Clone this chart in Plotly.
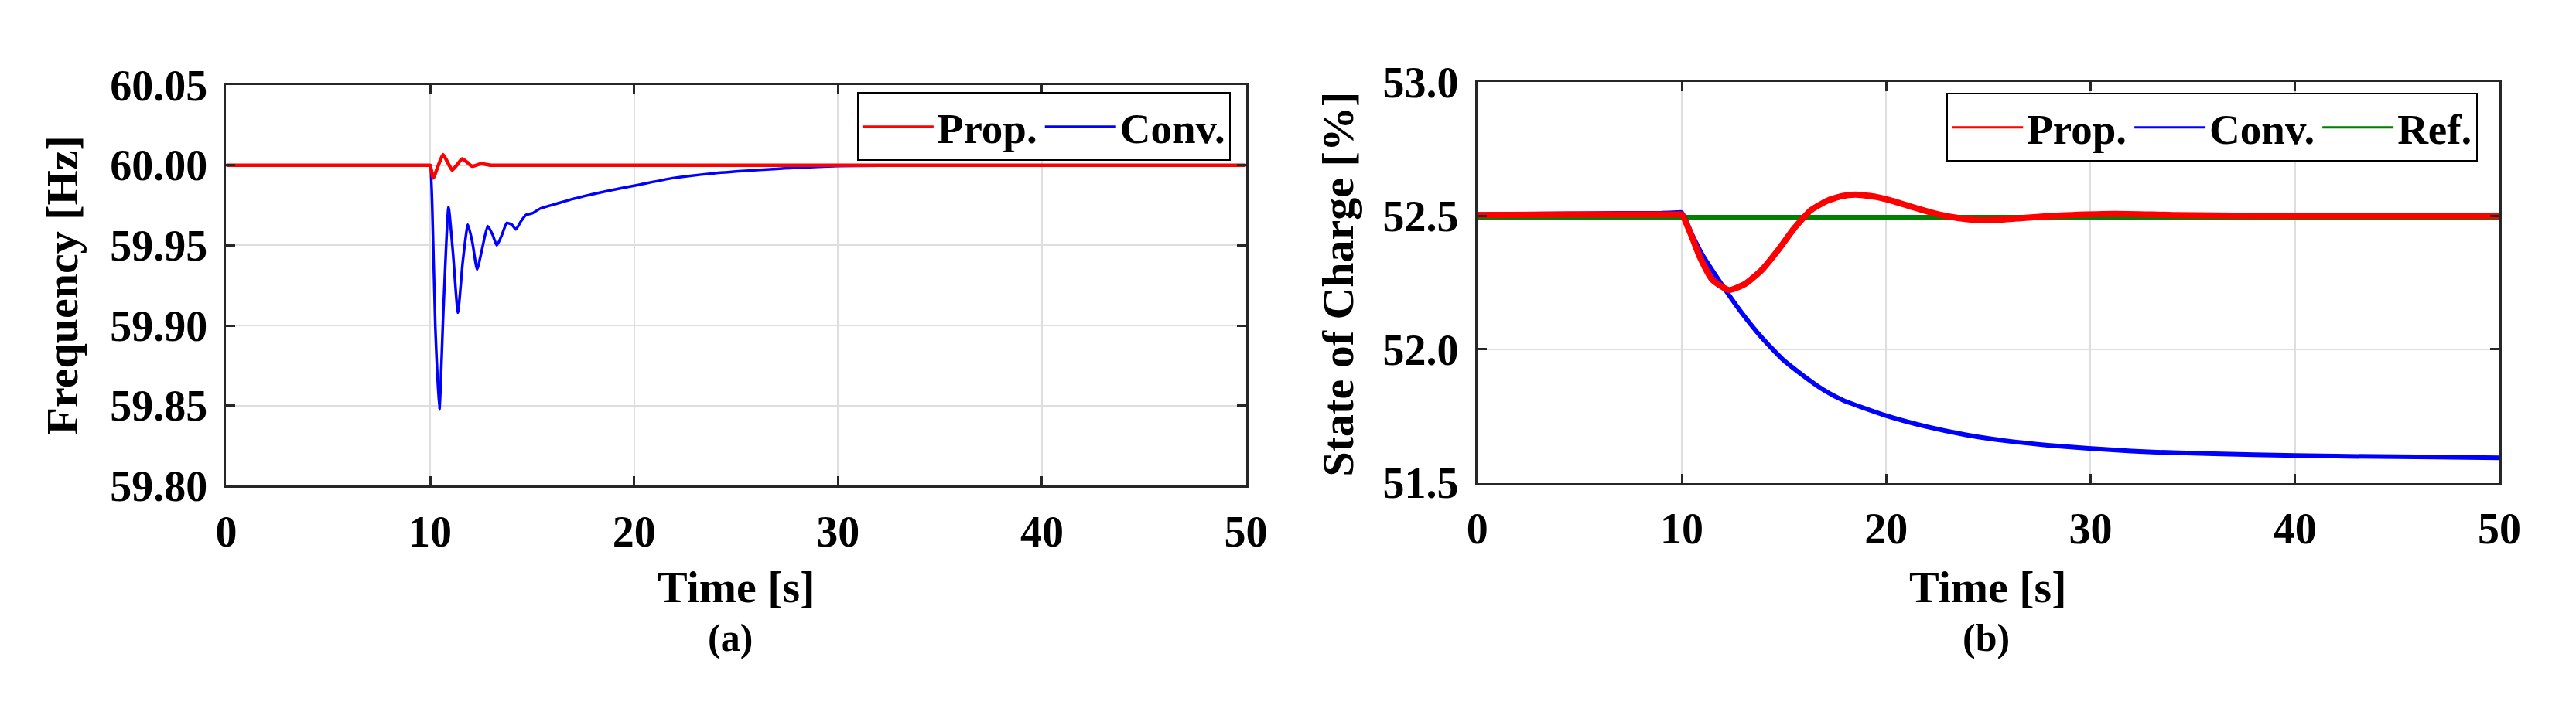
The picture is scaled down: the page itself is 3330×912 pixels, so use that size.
import plotly.graph_objects as go

# ---------------- data: (a) frequency ----------------
t_f_prop = [0, 5, 9.0, 9.8, 9.95, 10.0, 10.15, 10.4, 10.63, 10.85, 11.08, 11.3, 11.57, 11.8, 12.05, 12.5,
            13.0, 13.5, 14.5, 20, 30, 40, 50]
f_prop = [60.0, 60.0, 60.0, 60.0, 60.0, 60.0, 59.992, 60.000, 60.0067, 60.002, 59.997, 60.0, 60.004, 60.002,
          59.9994, 60.001, 60.0, 60.0, 60.0, 60.0, 60.0, 60.0, 60.0]

t_f_conv = [0, 5, 9.0, 9.8, 9.95, 10.0, 10.1, 10.25, 10.45, 10.65, 10.9, 11.12, 11.36, 11.6, 11.85, 12.07, 12.3,
            12.55, 12.82, 13.05, 13.27, 13.5, 13.76, 14.0, 14.2, 14.45, 14.7, 15.0, 15.4, 16.2, 17.0, 18.7,
            20.3, 21.9, 23.9, 26.0, 28.0, 30.0, 34.0, 40.0, 50.0]
f_conv = [60.0, 60.0, 60.0, 60.0, 60.0, 60.0, 59.975, 59.90, 59.8475, 59.91, 59.974, 59.945, 59.908, 59.94,
          59.963, 59.952, 59.935, 59.948, 59.962, 59.957, 59.950, 59.956, 59.964, 59.963, 59.960, 59.965,
          59.969, 59.970, 59.973, 59.976, 59.979, 59.984, 59.988, 59.992, 59.995, 59.997, 59.9985, 59.9995,
          60.0, 60.0, 60.0]

# ---------------- data: (b) state of charge ----------------
t_s_prop = [0, 5, 9.0, 9.8, 10.0, 10.5, 10.9, 11.5, 12.3, 13.1, 13.9, 14.7, 15.5, 16.3, 17.1, 17.8, 18.5, 19.4,
            20.3, 21.1, 21.9, 22.7, 23.5, 24.5, 25.5, 26.7, 28.0, 29.1, 31.2, 34.0, 38.0, 50.0]
s_prop = [52.503, 52.505, 52.505, 52.505, 52.505, 52.42, 52.343, 52.26, 52.222, 52.245, 52.296, 52.37, 52.453,
          52.52, 52.556, 52.573, 52.579, 52.572, 52.556, 52.537, 52.519, 52.503, 52.492, 52.484, 52.485,
          52.492, 52.499, 52.503, 52.507, 52.503, 52.50, 52.50]

t_s_conv = [0, 5, 9.0, 9.8, 10.0, 10.5, 11.0, 11.9, 12.9, 13.9, 14.9, 15.9, 16.9, 17.9, 19.9, 21.9, 23.9, 25.9,
            27.9, 29.9, 32.0, 34.0, 38.0, 42.0, 46.0, 50.0]
s_conv = [52.505, 52.508, 52.510, 52.512, 52.512, 52.43, 52.355, 52.249, 52.14, 52.045, 51.965, 51.904,
          51.85, 51.809, 51.754, 51.712, 51.680, 51.657, 51.641, 51.629, 51.619, 51.613, 51.605, 51.600,
          51.597, 51.594]

t_s_ref = [0, 50]
s_ref = [52.493, 52.493]

x_ticks = [0, 10, 20, 30, 40, 50]
y_ticks_f = [59.80, 59.85, 59.90, 59.95, 60.00, 60.05]
y_ticks_s = [51.5, 52.0, 52.5, 53.0]

RED = "#ff0000"
BLUE = "#0000ff"
GREEN = "#008000"
FONT = "Liberation Serif"
W, H = 3330, 912

fig = go.Figure()

# panel (a)
fig.add_trace(go.Scatter(x=t_f_conv, y=f_conv, mode="lines",
                         line=dict(color=BLUE, width=3.5, shape="spline", smoothing=0.5),
                         showlegend=False, xaxis="x", yaxis="y"))
fig.add_trace(go.Scatter(x=t_f_prop, y=f_prop, mode="lines",
                         line=dict(color=RED, width=4.5, shape="spline", smoothing=0.5),
                         showlegend=False, xaxis="x", yaxis="y"))
# legend proxies (a)
fig.add_trace(go.Scatter(x=[None], y=[None], mode="lines", line=dict(color=RED, width=3), name="Prop.",
                         legend="legend", xaxis="x", yaxis="y"))
fig.add_trace(go.Scatter(x=[None], y=[None], mode="lines", line=dict(color=BLUE, width=3), name="Conv.",
                         legend="legend", xaxis="x", yaxis="y"))

# panel (b)
fig.add_trace(go.Scatter(x=t_s_ref, y=s_ref, mode="lines", line=dict(color=GREEN, width=7),
                         showlegend=False, xaxis="x2", yaxis="y2"))
fig.add_trace(go.Scatter(x=t_s_conv, y=s_conv, mode="lines",
                         line=dict(color=BLUE, width=6, shape="spline", smoothing=0.5),
                         showlegend=False, xaxis="x2", yaxis="y2"))
fig.add_trace(go.Scatter(x=t_s_prop, y=s_prop, mode="lines",
                         line=dict(color=RED, width=8, shape="spline", smoothing=0.5),
                         showlegend=False, xaxis="x2", yaxis="y2"))
# legend proxies (b)
fig.add_trace(go.Scatter(x=[None], y=[None], mode="lines", line=dict(color=RED, width=3), name="Prop.",
                         legend="legend2", xaxis="x2", yaxis="y2"))
fig.add_trace(go.Scatter(x=[None], y=[None], mode="lines", line=dict(color=BLUE, width=3), name="Conv.",
                         legend="legend2", xaxis="x2", yaxis="y2"))
fig.add_trace(go.Scatter(x=[None], y=[None], mode="lines", line=dict(color=GREEN, width=3), name="Ref.",
                         legend="legend2", xaxis="x2", yaxis="y2"))

tickfont = dict(family=FONT, size=56, color="black", weight="bold")
axis_common = dict(
    showline=True, linewidth=3, linecolor="#262626", mirror="ticks",
    ticks="inside", ticklen=12, tickwidth=3, tickcolor="#262626",
    showgrid=True, gridcolor="#dedede", gridwidth=2, zeroline=False,
    tickfont=tickfont,
)


def px_x(p):
    return p / W


def px_y(p):
    return (H - p) / H


legend_common = dict(orientation="h", xanchor="right", yanchor="top",
                     bgcolor="white", bordercolor="black", borderwidth=2,
                     font=dict(family=FONT, size=55, color="black", weight="bold"),
                     itemwidth=92, tracegroupgap=0)

fig.update_layout(
    width=W, height=H, autosize=False,
    margin=dict(l=0, r=0, t=0, b=0),
    paper_bgcolor="white", plot_bgcolor="white",
    xaxis=dict(domain=[px_x(282), px_x(1617)], range=[0, 50], tickvals=x_ticks, anchor="y",
               ticklabelstandoff=8, **axis_common),
    yaxis=dict(domain=[px_y(642), px_y(86)], range=[59.80, 60.05], tickvals=y_ticks_f, tickformat=".2f",
               anchor="x", ticklabelstandoff=10, **axis_common),
    xaxis2=dict(domain=[px_x(1920), px_x(3258)], range=[0, 50], tickvals=x_ticks, anchor="y2",
                ticklabelstandoff=8, **axis_common),
    yaxis2=dict(domain=[px_y(638), px_y(82)], range=[51.5, 53.0], tickvals=y_ticks_s, tickformat=".1f",
                anchor="x2", ticklabelstandoff=10, **axis_common),
    legend=dict(x=px_x(1597), y=px_y(96), **legend_common),
    legend2=dict(x=px_x(3230), y=px_y(97), **legend_common),
)

title_font = dict(family=FONT, size=58, color="black", weight="bold")
label_font = dict(family=FONT, size=50, color="black", weight="bold")
annos = [
    dict(text="Frequency [Hz]", x=px_x(67), y=px_y(364), textangle=-90, font=title_font),
    dict(text="State of Charge [%]", x=px_x(1737), y=px_y(362), textangle=-90, font=title_font),
    dict(text="Time [s]", x=px_x(950), y=px_y(783), font=title_font),
    dict(text="Time [s]", x=px_x(2589), y=px_y(783), font=title_font),
    dict(text="(a)", x=px_x(942), y=px_y(853), font=label_font),
    dict(text="(b)", x=px_x(2586), y=px_y(853), font=label_font),
]
for a in annos:
    fig.add_annotation(xref="paper", yref="paper", xanchor="center", yanchor="middle", showarrow=False, **a)

fig.write_html("out.html", config={"displayModeBar": False},
               post_script="document.body.style.margin='0';")
